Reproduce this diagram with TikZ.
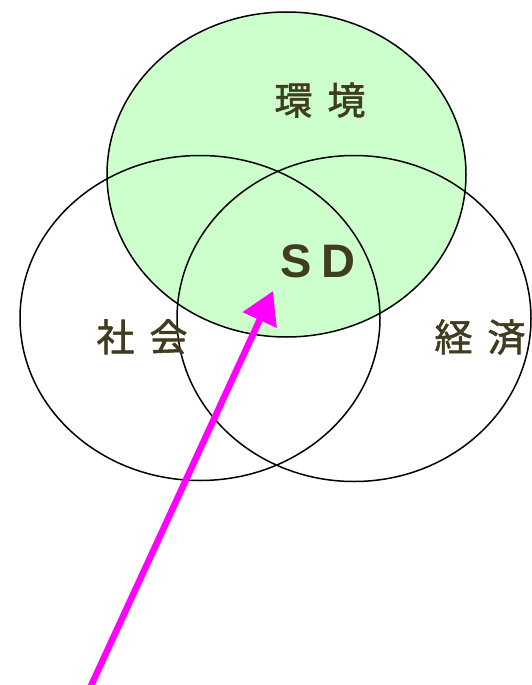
\documentclass[tikz,border=0pt]{standalone}
\usepackage{fontspec}
\setmainfont{Liberation Sans}
\newfontfamily\cjk[BoldFont={Noto Sans CJK JP},BoldFeatures={FakeBold=1.5}]{Noto Sans CJK JP}
\usetikzlibrary{arrows.meta}
\definecolor{txt}{HTML}{403C20}
\definecolor{lgreen}{HTML}{CCFFCC}
\definecolor{mag}{HTML}{FF00FF}
\tikzset{
  ring/.style={draw=black, line width=1.5pt},
  cjklabel/.style={text=txt, font=\cjk\bfseries\fontsize{38}{42}\selectfont, inner sep=0pt},
  sdlabel/.style={text=txt, font=\bfseries\fontsize{47}{50}\selectfont, inner sep=0pt},
  pointer/.style={draw=mag, line width=6.5pt, -{Triangle[length=32pt,width=36pt]}}
}
\begin{document}
\begin{tikzpicture}[x=1pt,y=-1pt]
\useasboundingbox (0,0) rectangle (531,685);
\fill[lgreen] (286.5,174.5) ellipse [x radius=179.5, y radius=162.5];
\draw[ring] (286.5,174.5) ellipse [x radius=179.5, y radius=162.5];
\draw[ring] (200,318) ellipse [x radius=180, y radius=162.5];
\draw[ring] (354,318.5) ellipse [x radius=177, y radius=163];
\node[cjklabel] (env) at (320,100) {環\hspace{15pt}境};
\node[cjklabel] (soc) at (142,337) {社\hspace{15pt}会};
\node[cjklabel] (eco) at (480,337) {経\hspace{15pt}済};
\node[sdlabel] (sd) at (318,261) {S\hspace{9pt}D};
\coordinate (tail) at (90,688);
\coordinate (tip) at (273,291);
\draw[pointer] (tail) -- (tip);
\end{tikzpicture}
\end{document}
